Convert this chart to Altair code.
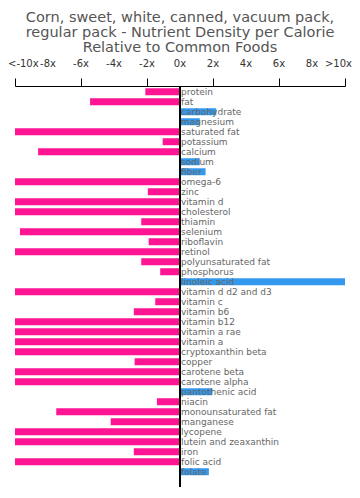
import altair as alt
import pandas as pd

nutrients = ["protein", "fat", "carbohydrate", "magnesium", "saturated fat", "potassium",
             "calcium", "sodium", "fiber", "omega-6", "zinc", "vitamin d", "cholesterol",
             "thiamin", "selenium", "riboflavin", "retinol", "polyunsaturated fat",
             "phosphorus", "linoleic acid", "vitamin d d2 and d3", "vitamin c",
             "vitamin b6", "vitamin b12", "vitamin a rae", "vitamin a",
             "cryptoxanthin beta", "copper", "carotene beta", "carotene alpha",
             "pantothenic acid", "niacin", "monounsaturated fat", "manganese",
             "lycopene", "lutein and zeaxanthin", "iron", "folic acid", "folate"]
values = [-2.1, -5.45, 2.2, 1.2, -10, -1.05, -8.6, 1.2, 1.55, -10, -1.95, -10, -10,
          -2.35, -9.7, -1.9, -10, -2.35, -1.2, 10, -10, -1.5, -2.8, -10, -10, -10,
          -10, -2.75, -10, -10, 1.95, -1.4, -7.5, -4.2, -10, -10, -2.8, -10, 1.75]
tick_values = [-10, -8, -6, -4, -2, 0, 2, 4, 6, 8, 10]
tick_labels = ["<-10x", "-8x", "-6x", "-4x", "-2x", "0x", "2x", "4x", "6x", "8x", ">10x"]
title_lines = ["Corn, sweet, white, canned, vacuum pack,",
               "regular pack - Nutrient Density per Calorie",
               "Relative to Common Foods"]

df = pd.DataFrame({"nutrient": nutrients, "value": values})
df["color"] = ["#ff1493" if v < 0 else "#3399ee" for v in values]
ticks_df = pd.DataFrame({"v": tick_values, "label": tick_labels})

xscale = alt.Scale(domain=[-10, 10], nice=False)
yscale = alt.Scale(domain=nutrients, paddingInner=0.3, paddingOuter=0.7, align=0.16)

bars = alt.Chart(df).mark_bar().encode(
    x=alt.X("value:Q", scale=xscale,
            axis=alt.Axis(orient="top", values=tick_values, labels=False,
                          grid=False, domainColor="black", tickColor="black",
                          tickSize=8, title=None)),
    x2=alt.datum(0),
    y=alt.Y("nutrient:N", scale=yscale, sort=nutrients, axis=None),
    color=alt.Color("color:N", scale=None),
)


def tick_layer(data, align, dx):
    return alt.Chart(data).mark_text(baseline="middle", fontSize=10, align=align, dx=dx,
                                     font="DejaVu Sans", color="#333").encode(
        x=alt.X("v:Q", scale=xscale),
        y=alt.value(-22),
        text="label:N",
    )


tick_mid = tick_layer(ticks_df.iloc[1:-1], "center", 0)
tick_first = tick_layer(ticks_df.iloc[:1], "left", -7)
tick_last = tick_layer(ticks_df.iloc[-1:], "right", 7)

zero = alt.Chart(df).mark_rule(color="black", strokeWidth=1.5).encode(
    x=alt.datum(0), y=alt.value(0), y2=alt.value(401)
)

labels = alt.Chart(df).mark_text(align="left", baseline="middle", dx=1, fontSize=9,
                                 font="DejaVu Sans", color="#666").encode(
    x=alt.datum(0),
    y=alt.Y("nutrient:N", scale=yscale, sort=nutrients, axis=None),
    text="nutrient:N",
)

chart = alt.layer(bars, tick_mid, tick_first, tick_last, zero, labels).properties(
    width=330, height=401,
    autosize=alt.AutoSizeParams(type="none"),
    padding={"left": 7, "top": 78, "right": 7, "bottom": 0},
    title=alt.TitleParams(
        title_lines,
        anchor="middle", fontSize=14.5, font="DejaVu Sans", fontWeight="normal",
        color="#555", offset=4, lineHeight=15,
    ),
).configure_view(stroke=None)

chart.save("out.html", embed_options={"renderer": "svg", "actions": False})
